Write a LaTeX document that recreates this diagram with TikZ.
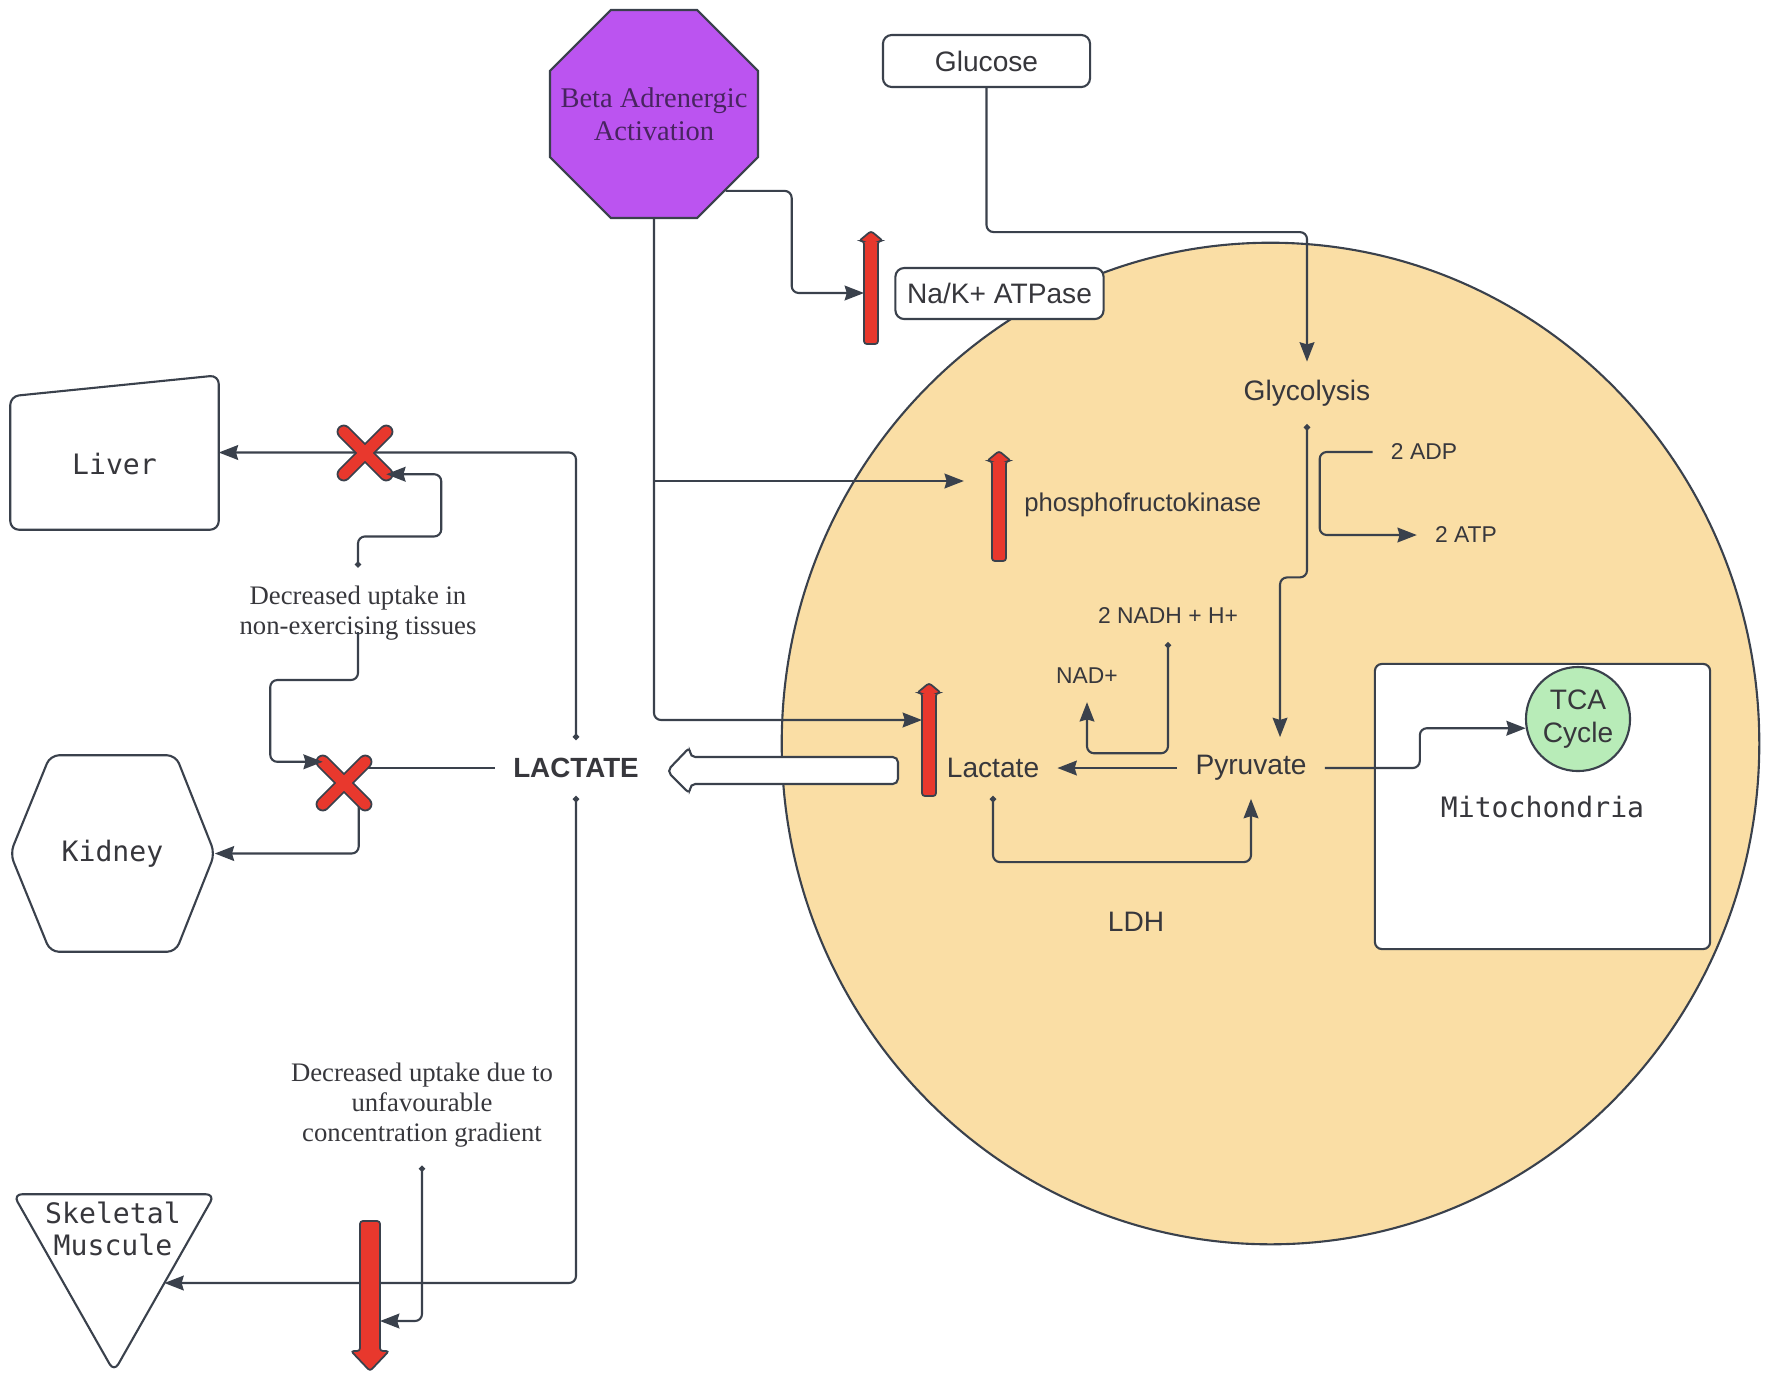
\documentclass[tikz,border=0pt]{standalone}
\usepackage{fontspec}
\setmainfont{Liberation Serif}
\setsansfont{Liberation Sans}
\setmonofont{DejaVu Sans Mono}
\usetikzlibrary{arrows.meta, shapes.geometric, calc}
\definecolor{linegray}{RGB}{58, 65, 76}
\definecolor{textgray}{RGB}{55, 55, 60}
\definecolor{cellorange}{RGB}{250, 222, 165}
\definecolor{betapurple}{RGB}{187, 84, 240}
\definecolor{betatext}{RGB}{72, 36, 96}
\definecolor{blockred}{RGB}{232, 56, 45}
\definecolor{tcagreen}{RGB}{184, 236, 184}

\tikzset{
    pics/upbar/.style 2 args={code={
        \filldraw[bar] (0,0) -- (12,10) -- (7,10) -- (7,#1) -- (-7,#1) -- (-7,10) -- (-12,10) -- cycle;
        \coordinate (-w) at (-7,#2);
    }},
    pics/downbar/.style 2 args={code={
        \filldraw[bar] (0,0) -- (-19,-20) -- (-10,-20) -- (-10,-#1) -- (10,-#1) -- (10,-20) -- (19,-20) -- cycle;
        \coordinate (-e) at (10,-#2);
    }}
}

\begin{document}
\begin{tikzpicture}[
    x=0.01cm, y=-0.01cm,
    conn/.style={draw=linegray, line width=0.6pt, rounded corners=2pt},
    arrow/.style={conn, -{Stealth[length=5.5pt, width=4.2pt, inset=0.6pt]}},
    dotarrow/.style={conn, {Circle[length=1.7pt]}-{Stealth[length=5.5pt, width=4.2pt, inset=0.6pt]}},
    box/.style={rectangle, rounded corners=2.5pt, draw=linegray, line width=0.6pt, fill=white, font=\sffamily\fontsize{8}{9.6}\selectfont, text=textgray},
    txt/.style={inner sep=5pt, font=\sffamily\fontsize{8}{9.6}\selectfont, text=textgray},
    small/.style={txt, font=\sffamily\fontsize{6.5}{8}\selectfont},
    organ/.style={inner sep=0pt, font=\ttfamily\fontsize{8}{9.2}\selectfont, text=textgray, align=center},
    outline/.style={draw=linegray, line width=0.6pt, rounded corners=2.5pt},
    note/.style={inner sep=5pt, font=\rmfamily\fontsize{7.6}{8.6}\selectfont, text=textgray, align=center},
    stopsign/.style={regular polygon, regular polygon sides=8, minimum size=2.25cm, inner sep=0pt, draw=linegray, line width=0.6pt, fill=betapurple},
    betalabel/.style={inner sep=0pt, text=betatext, font=\rmfamily\fontsize{8.1}{9.4}\selectfont, align=center},
    bar/.style={fill=blockred, draw=linegray, line width=0.5pt, rounded corners=0.8pt},
    xspot/.style={rectangle, minimum size=0.41cm, inner sep=0pt},
    xstroke/.style={draw=linegray, line width=0.5pt, double=blockred, double distance=3.1pt, line cap=round}
]
    \useasboundingbox (0,0) rectangle (1770,1384);

    % Cell
    \node[ellipse, draw=linegray, line width=0.6pt, fill=cellorange, minimum width=9.77cm, minimum height=10.01cm] (cell) at (1270.5,743.5) {};

    % Inputs
    \node[stopsign, label={[betalabel]center:{Beta Adrenergic\\Activation}}] (beta) at (654,114) {};
    \node[box, minimum width=2.07cm, minimum height=0.52cm] (glucose) at (986.5,61) {Glucose};
    \node[box, minimum width=2.05cm, minimum height=0.51cm] (nak) at (999.5,293.5) {Na/K+ ATPase};

    % Glycolysis
    \node[txt] (glycolysis) at (1307,393) {Glycolysis};
    \node[txt, anchor=west, font=\sffamily\fontsize{7.3}{8.5}\selectfont] (pfk) at (1006,505) {phosphofructokinase};
    \node[small] (adp) at (1424,452) {2 ADP};
    \node[small] (atp) at (1466,535) {2 ATP};
    \node[small] (nadh) at (1168,616) {2 NADH + H+};
    \node[small] (nad) at (1087,676) {NAD+};
    \node[txt] (lactext) at (993,768) {Lactate};
    \node[txt] (pyruvate) at (1251,768) {Pyruvate};
    \node[txt] (ldh) at (1136,922) {LDH};

    % Mitochondria
    \node[box, rounded corners=2pt, minimum width=3.35cm, minimum height=2.85cm, font=\ttfamily\fontsize{8}{9.6}\selectfont] (mito) at (1542.5,806.5) {Mitochondria};
    \node[circle, draw=linegray, line width=0.6pt, fill=tcagreen, minimum size=1.04cm, inner sep=0pt, align=center, font=\sffamily\fontsize{8}{9.4}\selectfont, text=textgray] (tca) at (1578,719) {TCA\\Cycle};

    % Organs
    \node[organ, minimum width=2.07cm, minimum height=1.53cm, label={[organ, yshift=-0.11cm]center:Liver}] (liver) at (114.5,452.5) {};
    \draw[outline] (liver.south west) -- ([yshift=-0.21cm]liver.north west) -- (liver.north east) -- (liver.south east) -- cycle;
    \node[organ, minimum width=2.03cm, minimum height=1.95cm] (kidney) at (112.5,853.5) {Kidney};
    \draw[outline] (kidney.west) -- ([xshift=0.4cm]kidney.north west) -- ([xshift=-0.39cm]kidney.north east) -- (kidney.east) -- ([xshift=-0.39cm]kidney.south east) -- ([xshift=0.4cm]kidney.south west) -- cycle;
    \node[organ, minimum width=2cm, minimum height=1.76cm] (muscle) at (114,1283) {};
    \draw[outline] (muscle.north west) -- (muscle.north east) -- (muscle.south) -- cycle;
    \node[organ] (muscletext) at (113,1229) {Skeletal\\Muscule};

    % Lactate out
    \node[txt, font=\sffamily\bfseries\fontsize{7.9}{9.5}\selectfont] (lactate) at (576,768) {LACTATE};
    \filldraw[outline, fill=white, rounded corners=1.5pt] (667,771) -- (690,747) -- (690,757) -- (898,757) -- (898,784) -- (690,784) -- (690,794) -- cycle;
    \node[note] (uptake) at (358,613) {Decreased uptake in\\non-exercising tissues};
    \node[note] (gradient) at (422,1105) {Decreased uptake due to\\unfavourable\\concentration gradient};
    \node[xspot] (liverx) at (365,453) {};
    \node[xspot] (kidneyx) at (344,783) {};

    % Blockers
    \pic (nakbar) at (871,231) {upbar={113}{62}};
    \pic (pfkbar) at (999,451) {upbar={110}{30}};
    \pic (lacbar) at (929,683) {upbar={113}{37}};

    % Arrows
    \draw[arrow] (glucose.south) -- ++(0,144) -| (glycolysis.north);
    \draw[dotarrow] (glycolysis.south) -- ++(0,153) -| ([xshift=0.29cm]pyruvate.north);
    \draw[arrow] (adp.west) -- ++(-53,0) |- (atp.west);
    \draw[dotarrow] (nadh.south) -- ++(0,111) -| (nad.south);
    \draw[arrow] (pyruvate.west) -- (lactext.east);
    \draw[dotarrow] (lactext.south) -- ++(0,66) -| (pyruvate.south);
    \draw[arrow] (pyruvate.east) -- ++(95,0) |- (tca.190);
    \draw[arrow] (beta.-47) -- ++(66,0) |- (nakbar-w);
    \draw[arrow] (beta.south) |- (lacbar-w);
    \draw[arrow, shorten >=8pt] (beta.south |- pfkbar-w) -- (pfkbar-w);

    \draw[dotarrow] (lactate.north) |- (liver.east);
    \draw[dotarrow] (lactate.south) |- ($(muscle.north east)!0.5!(muscle.south)$);
    \draw[conn] (lactate.west) -- (lactate.west -| kidneyx.east);
    \draw[arrow] ([xshift=-0.065cm]kidneyx.south east) |- (kidney.east);
    \draw[xstroke] (liverx.north west) -- (liverx.south east) (liverx.north east) -- (liverx.south west);
    \draw[xstroke] (kidneyx.north west) -- (kidneyx.south east) (kidneyx.north east) -- (kidneyx.south west);
    \draw[dotarrow] (uptake.north) -- ++(0,-31) -| ([xshift=0.55cm]liverx.south east) -- (liverx.south east);
    \draw[arrow] ([yshift=-0.19cm]uptake.center) -- ++(0,48) -| ([xshift=-0.525cm]kidneyx.north west) -- (kidneyx.north west);

    \pic (musclebar) at (370,1371) {downbar={150}{50}};
    \draw[dotarrow] (gradient.south) |- (musclebar-e);
\end{tikzpicture}
\end{document}
